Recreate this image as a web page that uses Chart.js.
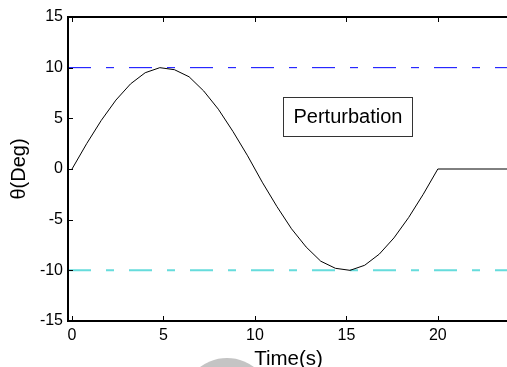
<!DOCTYPE html>
<html>
<head>
<meta charset="utf-8">
<script src="https://cdn.jsdelivr.net/npm/chart.js@4.4.0/dist/chart.umd.min.js"></script>
<style>
html, body { margin: 0; padding: 0; background: #fff; overflow: hidden; }
#wrap { width: 520px; height: 367px; }
</style>
</head>
<body>
<div id="wrap"><canvas id="myChart" width="520" height="367"></canvas></div>
<script>
// time samples (s) and angle (deg)
var timeS = [0, 0.8, 1.6, 2.4, 3.2, 4.0, 4.8, 5.6, 6.4, 7.2, 8.0, 8.8, 9.6,
    10.4, 11.2, 12.0, 12.8, 13.6, 14.4, 15.2, 16.0, 16.8, 17.6, 18.4, 19.2, 20.0, 24];
var thetaDeg = [0, 2.5, 4.8, 6.8, 8.4, 9.5, 10, 9.8, 9.1, 7.7, 5.9, 3.7, 1.3,
    -1.3, -3.7, -5.9, -7.7, -9.1, -9.8, -10, -9.5, -8.4, -6.8, -4.8, -2.5, 0, 0];

// limit lines
var limitLevels = [10, -10];
var limitColors = ['#0000ff', '#66dcdc'];
var limitWidths = [1, 2];

var xTicks = [0, 5, 10, 15, 20];
var yTicks = [-15, -10, -5, 0, 5, 10, 15];
var xRange = [-0.22, 24];
var yRange = [-15, 15];

var boxText = 'Perturbation';
var boxCorners = [[11.55, 7.1], [18.6, 3.3]]; // data coords of the text box

var FONT = "'Liberation Sans', Arial, sans-serif";

var ctx = document.getElementById('myChart').getContext('2d');

var datasets = [{
    data: timeS.map(function (t, i) { return { x: t, y: thetaDeg[i] }; }),
    borderColor: '#000',
    borderWidth: 1,
    pointRadius: 0,
    tension: 0
}];
limitLevels.forEach(function (lv, i) {
    datasets.push({
        data: [{ x: xRange[0], y: lv }, { x: xRange[1], y: lv }],
        borderColor: limitColors[i],
        borderWidth: limitWidths[i],
        borderDash: [23, 15, 8, 15],
        pointRadius: 0
    });
});

// frame, inward ticks, text box, axis titles
var frame = {
    id: 'frame',
    beforeDraw: function (chart) {
        var c = chart.ctx;
        c.save();
        c.fillStyle = '#c4c4c4';
        c.beginPath();
        c.arc(227, 403, 45, 0, Math.PI * 2);
        c.fill();
        c.restore();
    },
    afterDraw: function (chart) {
        var c = chart.ctx, a = chart.chartArea;
        var xs = chart.scales.x, ys = chart.scales.y;
        c.save();
        c.strokeStyle = '#000';
        c.lineWidth = 2;
        c.beginPath();
        c.moveTo(a.left, a.bottom);
        c.lineTo(a.left, a.top);
        c.lineTo(a.right + 2, a.top);
        c.moveTo(a.left - 1, a.bottom);
        c.lineTo(a.right + 2, a.bottom);
        c.stroke();

        c.lineWidth = 1;
        c.beginPath();
        xTicks.forEach(function (v) {
            var px = Math.round(xs.getPixelForValue(v)) + 0.5;
            c.moveTo(px, a.bottom); c.lineTo(px, a.bottom - 5);
            c.moveTo(px, a.top); c.lineTo(px, a.top + 5);
        });
        yTicks.forEach(function (v) {
            var py = Math.round(ys.getPixelForValue(v)) + 0.5;
            c.moveTo(a.left, py); c.lineTo(a.left + 5, py);
        });
        c.stroke();

        // text box
        var bx0 = Math.round(xs.getPixelForValue(boxCorners[0][0])) + 0.5;
        var by0 = Math.round(ys.getPixelForValue(boxCorners[0][1])) + 0.5;
        var bx1 = Math.round(xs.getPixelForValue(boxCorners[1][0])) + 0.5;
        var by1 = Math.round(ys.getPixelForValue(boxCorners[1][1])) + 0.5;
        c.fillStyle = '#fff';
        c.fillRect(bx0, by0, bx1 - bx0, by1 - by0);
        c.strokeStyle = '#333';
        c.strokeRect(bx0, by0, bx1 - bx0, by1 - by0);
        c.fillStyle = '#000';
        c.font = '20px ' + FONT;
        c.textAlign = 'left';
        c.textBaseline = 'alphabetic';
        c.fillText(boxText, bx0 + 10, by0 + 25);

        // axis titles
        c.textAlign = 'center';
        c.font = '20.5px ' + FONT;
        c.fillText('Time(s)', (a.left + a.right) / 2 - 1, 365);
        c.font = '20px ' + FONT;
        c.translate(25, (a.top + a.bottom) / 2);
        c.rotate(-Math.PI / 2);
        c.fillText('\u03b8(Deg)', 0, 0);
        c.restore();
    }
};

var myChart = new Chart(ctx, {
    type: 'line',
    data: { datasets: datasets },
    options: {
        responsive: false,
        animation: false,
        layout: { padding: { top: 17, right: 9, left: 0, bottom: 0 } },
        plugins: { legend: { display: false }, tooltip: { enabled: false } },
        scales: {
            x: {
                type: 'linear',
                min: xRange[0],
                max: xRange[1],
                grid: { display: false, drawTicks: false },
                border: { display: false },
                afterBuildTicks: function (s) { s.ticks = xTicks.map(function (v) { return { value: v }; }); },
                afterFit: function (s) { s.height = 46; },
                ticks: { padding: 5, color: '#000', font: { family: FONT, size: 16 }, maxRotation: 0 }
            },
            y: {
                min: yRange[0],
                max: yRange[1],
                grid: { display: false, drawTicks: false },
                border: { display: false },
                afterBuildTicks: function (s) { s.ticks = yTicks.map(function (v) { return { value: v }; }); },
                afterFit: function (s) { s.width = 68; },
                ticks: { padding: 5, color: '#000', font: { family: FONT, size: 16 } }
            }
        }
    },
    plugins: [frame]
});
</script>
</body>
</html>
